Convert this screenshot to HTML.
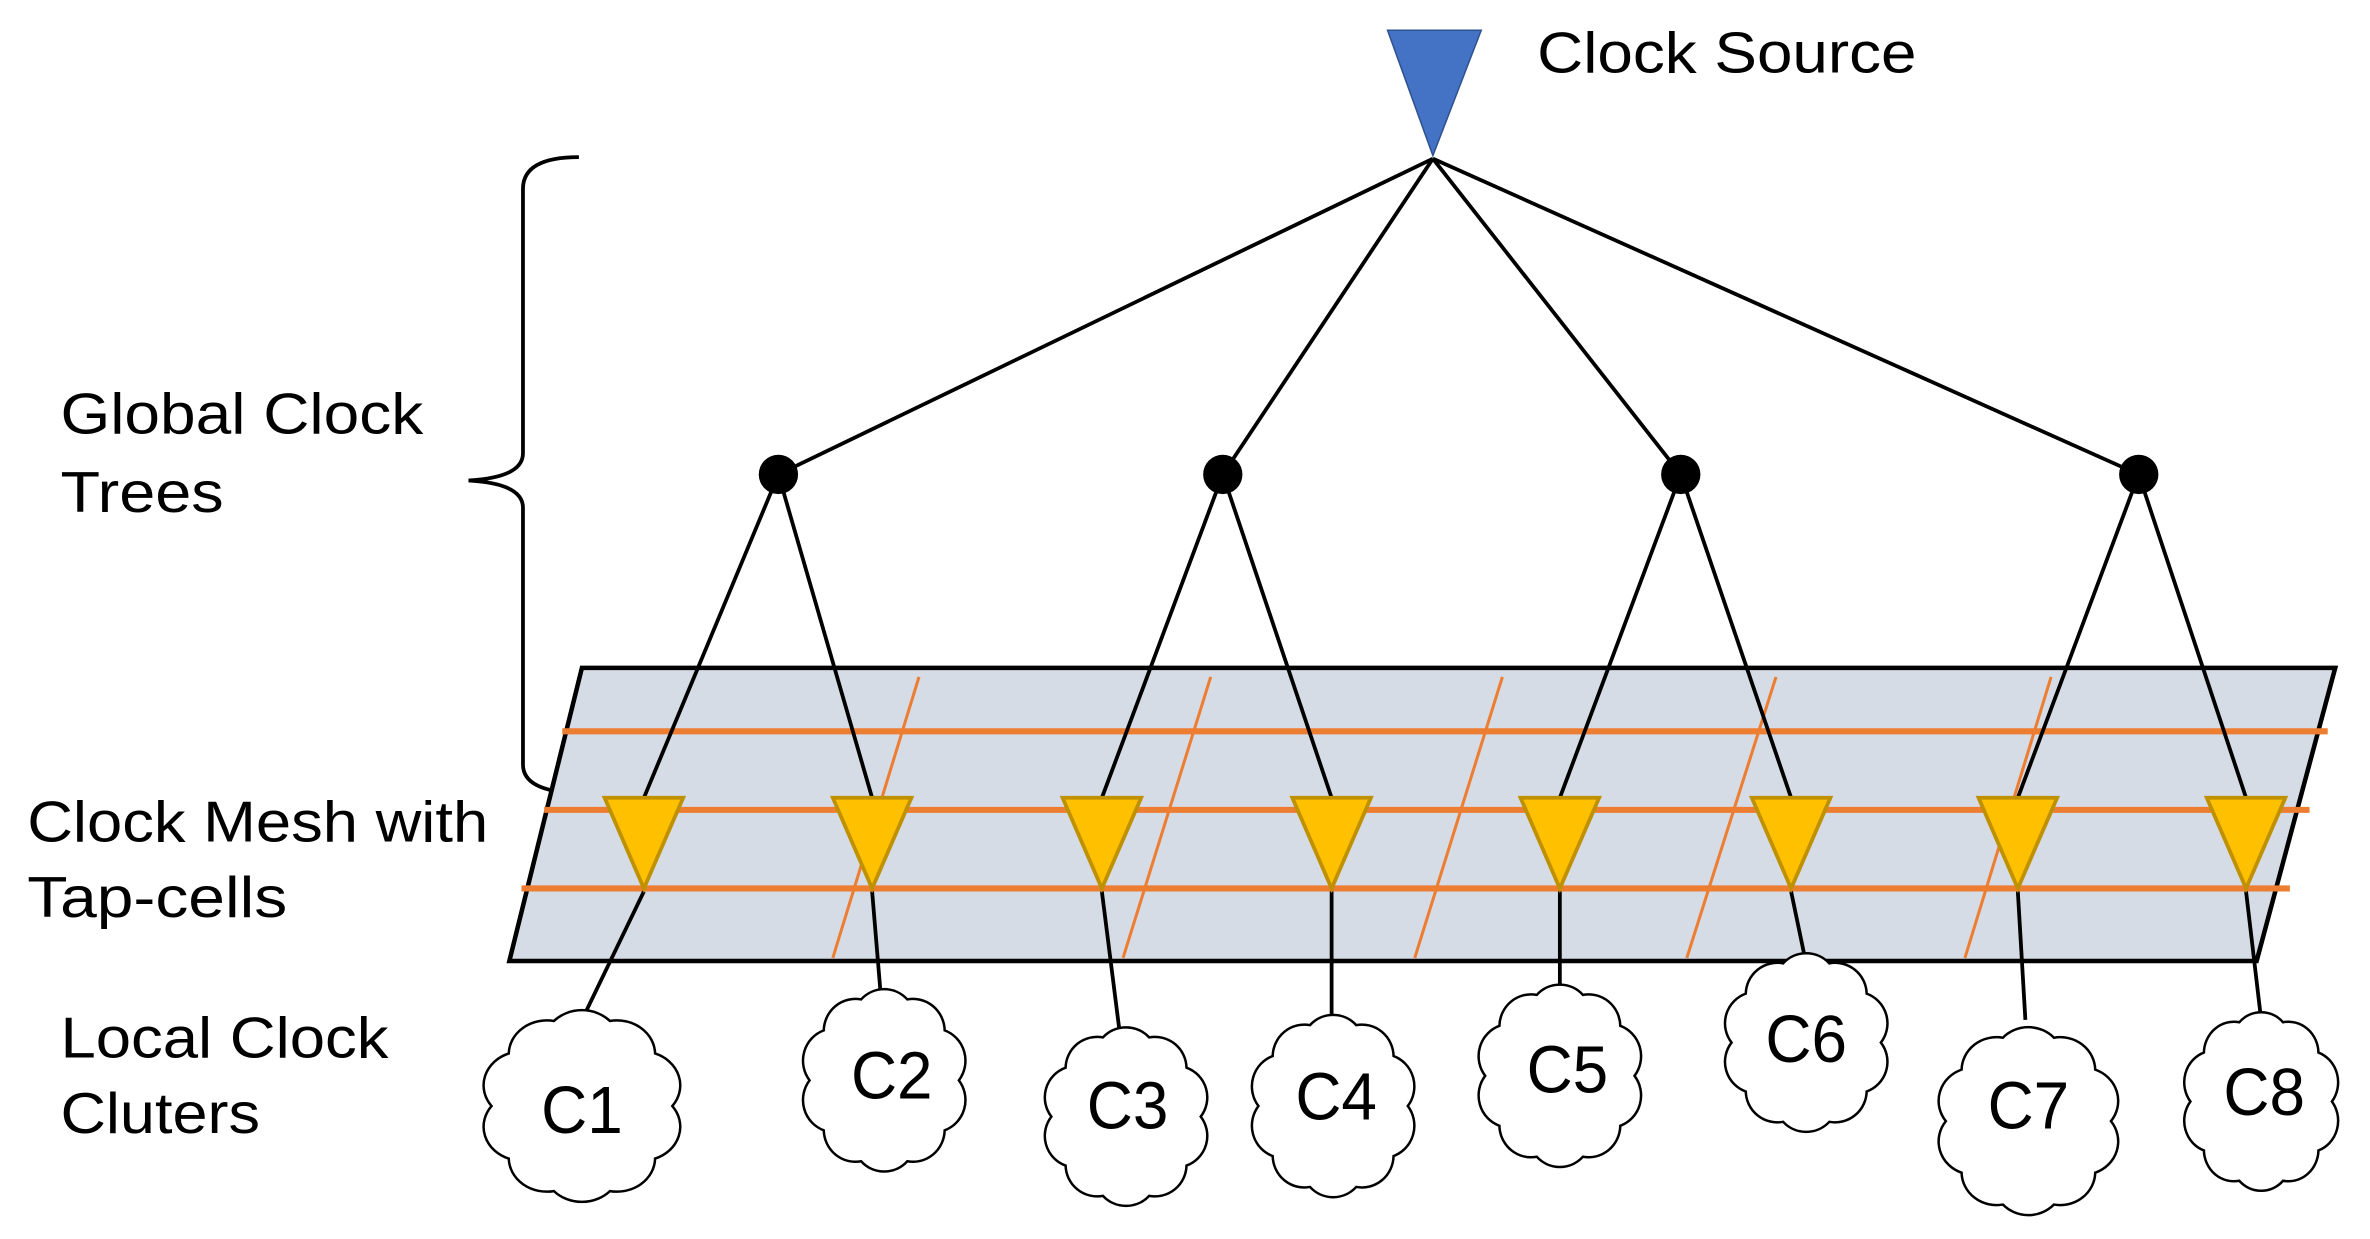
<!DOCTYPE html>
<html><head><meta charset="utf-8"><style>
html,body{margin:0;padding:0;background:#fff;}
svg{display:block;}
text{font-family:"Liberation Sans",Arial,sans-serif;fill:#000;}
</style></head><body>
<svg width="2370" height="1239" viewBox="0 0 1568 820" preserveAspectRatio="none" xmlns="http://www.w3.org/2000/svg">
<defs>
<path id="cloud" d="M52,0 A22,22 0 0 1 42.1,34.1 A22,22 0 0 1 16.1,55.2 A22,22 0 0 1 -16.1,55.2 A22,22 0 0 1 -42.1,34.1 A22,22 0 0 1 -52,0 A22,22 0 0 1 -42.1,-34.1 A22,22 0 0 1 -16.1,-55.2 A22,22 0 0 1 16.1,-55.2 A22,22 0 0 1 42.1,-34.1 A22,22 0 0 1 52,0 Z" fill="#fff" stroke="#000" stroke-width="2.5" vector-effect="non-scaling-stroke"/>
</defs>
<polygon points="918,20 980,20 948,103" fill="#4472C4" stroke="#2F528F" stroke-width="1"/>
<text x="1017" y="48" font-size="38" textLength="251" lengthAdjust="spacingAndGlyphs">Clock Source</text>
<g stroke="#000" stroke-width="2.5" fill="none">
<line x1="948" y1="105" x2="515" y2="314"/>
<line x1="948" y1="105" x2="809" y2="314"/>
<line x1="948" y1="105" x2="1112" y2="314"/>
<line x1="948" y1="105" x2="1415" y2="314"/>
<path d="M383,104 Q346,104 346,125 L346,300 Q346,316 310,318 Q346,320 346,336 L346,506 Q346,524 383,525"/>
</g>
<g fill="#000">
<circle cx="515" cy="314" r="13"/><circle cx="809" cy="314" r="13"/>
<circle cx="1112" cy="314" r="13"/><circle cx="1415" cy="314" r="13"/>
</g>
<text x="40" y="287" font-size="38" textLength="240" lengthAdjust="spacingAndGlyphs">Global Clock</text>
<text x="40" y="339" font-size="38" textLength="108" lengthAdjust="spacingAndGlyphs">Trees</text>
<polygon points="385,442 1545,442 1493,636 337,636" fill="#D6DCE5" stroke="#000" stroke-width="3"/>
<g stroke="#ED7D31" stroke-width="4">
<line x1="372" y1="484" x2="1540" y2="484"/>
<line x1="360" y1="536" x2="1528" y2="536"/>
<line x1="345" y1="588" x2="1515" y2="588"/>
</g>
<g stroke="#ED7D31" stroke-width="2">
<line x1="608" y1="448" x2="551" y2="634"/>
<line x1="801" y1="448" x2="743" y2="634"/>
<line x1="994" y1="448" x2="936" y2="634"/>
<line x1="1175" y1="448" x2="1116" y2="634"/>
<line x1="1357" y1="448" x2="1300" y2="634"/>
</g>
<text x="18" y="557" font-size="38" textLength="305" lengthAdjust="spacingAndGlyphs">Clock Mesh with</text>
<text x="18" y="607" font-size="38" textLength="172" lengthAdjust="spacingAndGlyphs">Tap-cells</text>
<text x="40" y="700" font-size="38" textLength="217" lengthAdjust="spacingAndGlyphs">Local Clock</text>
<text x="40" y="750" font-size="38" textLength="132" lengthAdjust="spacingAndGlyphs">Cluters</text>
<g stroke="#000" stroke-width="2.5">
<line x1="515" y1="314" x2="426" y2="528"/><line x1="515" y1="314" x2="577" y2="528"/>
<line x1="809" y1="314" x2="729" y2="528"/><line x1="809" y1="314" x2="881" y2="528"/>
<line x1="1112" y1="314" x2="1032" y2="528"/><line x1="1112" y1="314" x2="1185" y2="528"/>
<line x1="1415" y1="314" x2="1335" y2="528"/><line x1="1415" y1="314" x2="1486" y2="528"/>
<line x1="426" y1="590" x2="385" y2="675"/>
<line x1="577" y1="590" x2="583" y2="662"/>
<line x1="729" y1="590" x2="741" y2="685"/>
<line x1="881" y1="590" x2="881" y2="677"/>
<line x1="1032" y1="590" x2="1032" y2="659"/>
<line x1="1185" y1="590" x2="1195" y2="638"/>
<line x1="1335" y1="590" x2="1340" y2="675"/>
<line x1="1486" y1="590" x2="1496" y2="675"/>
</g>
<g fill="#FFC000" stroke="#BF9000" stroke-width="2.5">
<polygon points="400,528 452,528 426,588"/>
<polygon points="551,528 603,528 577,588"/>
<polygon points="703,528 755,528 729,588"/>
<polygon points="855,528 907,528 881,588"/>
<polygon points="1006,528 1058,528 1032,588"/>
<polygon points="1159,528 1211,528 1185,588"/>
<polygon points="1309,528 1361,528 1335,588"/>
<polygon points="1460,528 1512,528 1486,588"/>
</g>
<use href="#cloud" transform="translate(385,732) scale(1.15,1.02)"/>
<use href="#cloud" transform="translate(585,715) scale(0.95,0.97)"/>
<use href="#cloud" transform="translate(745,739) scale(0.95,0.95)"/>
<use href="#cloud" transform="translate(882,732) scale(0.95,0.97)"/>
<use href="#cloud" transform="translate(1032,712) scale(0.95,0.97)"/>
<use href="#cloud" transform="translate(1195,690) scale(0.95,0.95)"/>
<use href="#cloud" transform="translate(1342,742) scale(1.05,1.0)"/>
<use href="#cloud" transform="translate(1496,729) scale(0.9,0.95)"/>
<g font-size="44" text-anchor="middle">
<text x="385" y="750" textLength="54" lengthAdjust="spacingAndGlyphs">C1</text>
<text x="590" y="727" textLength="54" lengthAdjust="spacingAndGlyphs">C2</text>
<text x="746" y="747" textLength="54" lengthAdjust="spacingAndGlyphs">C3</text>
<text x="884" y="741" textLength="54" lengthAdjust="spacingAndGlyphs">C4</text>
<text x="1037" y="723" textLength="54" lengthAdjust="spacingAndGlyphs">C5</text>
<text x="1195" y="703" textLength="54" lengthAdjust="spacingAndGlyphs">C6</text>
<text x="1342" y="747" textLength="54" lengthAdjust="spacingAndGlyphs">C7</text>
<text x="1498" y="738" textLength="54" lengthAdjust="spacingAndGlyphs">C8</text>
</g>
</svg>
</body></html>
